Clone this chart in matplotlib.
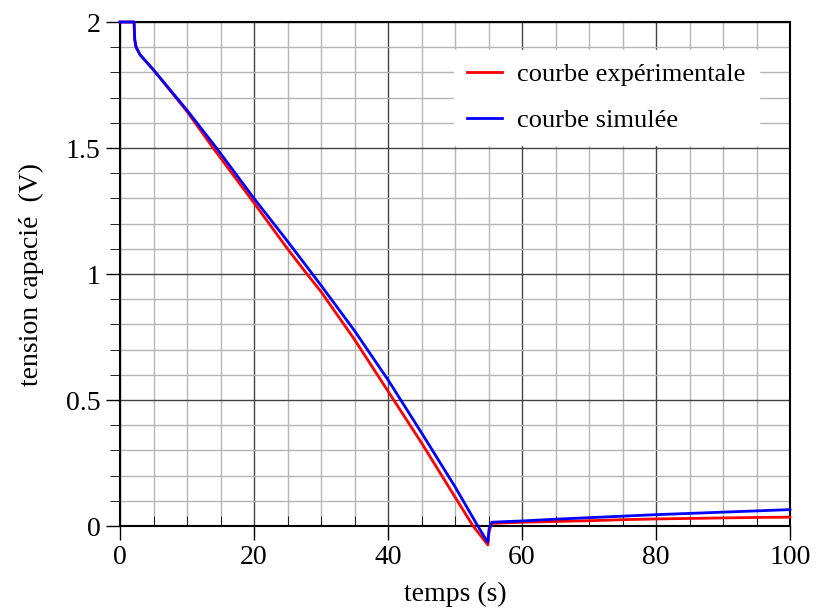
import matplotlib
matplotlib.use('Agg')
import matplotlib.pyplot as plt
from matplotlib.ticker import MultipleLocator

# temps (s) et tension (V)
t_exp = [0, 2.1, 2.2, 2.4, 3, 5, 10, 13.9, 20, 25, 27.9, 30, 35, 40, 45, 50, 52.7, 54.9, 55.1, 55.5, 58, 60, 65, 70, 75, 80, 85, 90, 95, 100]
v_exp = [2.0, 2.0, 1.93, 1.9, 1.87, 1.81, 1.645, 1.5, 1.282, 1.10, 1.0, 0.93, 0.74, 0.535, 0.33, 0.115, 0.0, -0.075, -0.02, 0.01, 0.013, 0.015, 0.018, 0.021, 0.025, 0.028, 0.030, 0.032, 0.034, 0.035]
t_sim = [0, 2.1, 2.2, 2.4, 3, 5, 10, 14.4, 20, 25, 30, 35, 40, 45, 50, 53.4, 54.9, 55.1, 55.5, 58, 60, 65, 70, 75, 80, 85, 90, 95, 100]
v_sim = [2.0, 2.0, 1.93, 1.9, 1.87, 1.81, 1.65, 1.5, 1.30, 1.13, 0.955, 0.775, 0.58, 0.37, 0.156, 0.0, -0.065, -0.01, 0.015, 0.018, 0.020, 0.027, 0.033, 0.039, 0.045, 0.050, 0.055, 0.060, 0.065]

plt.rcParams['font.family'] = ['Liberation Serif', 'DejaVu Serif']

fig = plt.figure(figsize=(8.18, 6.10), dpi=100)
ax = fig.add_axes([120/818, 84/610, 670/818, 504/610])

ax.plot(t_exp, v_exp, color='red', lw=2, label='courbe expérimentale', zorder=3, clip_on=False)
ax.plot(t_sim, v_sim, color='blue', lw=2, label='courbe simulée', zorder=4, clip_on=False)

ax.set_xlim(0, 100)
ax.set_ylim(0, 2)
ax.xaxis.set_major_locator(MultipleLocator(20))
ax.xaxis.set_minor_locator(MultipleLocator(5))
ax.yaxis.set_major_locator(MultipleLocator(0.5))
ax.yaxis.set_minor_locator(MultipleLocator(0.1))
ax.set_yticks([0, 0.5, 1, 1.5, 2], ['0', '0.5', '1', '1.5', '2'])

ax.grid(which='major', color='#444444', lw=1)
ax.grid(which='minor', color='#b5b5b5', lw=1)
ax.set_axisbelow(True)

ax.tick_params(which='major', direction='out', length=10, labelsize=20, width=1, pad=4)
ax.tick_params(axis='x', which='minor', direction='in', length=7)
ax.tick_params(axis='y', which='minor', direction='out', length=7)
for sp in ax.spines.values():
    sp.set_linewidth(1.5)

ax.set_xlabel('temps (s)', fontsize=20, labelpad=8)
ax.set_ylabel('tension capacié  (V)', fontsize=20, labelpad=16)

leg = ax.legend(loc='upper right', bbox_to_anchor=(0.953, 0.945), frameon=True, fancybox=False,
                edgecolor='white', framealpha=1, fontsize=19, handlelength=1.35, handletextpad=0.55,
                labelspacing=0.85, borderaxespad=0, borderpad=0.5)
leg.set_zorder(5)

fig.savefig('out.png', dpi=100)
